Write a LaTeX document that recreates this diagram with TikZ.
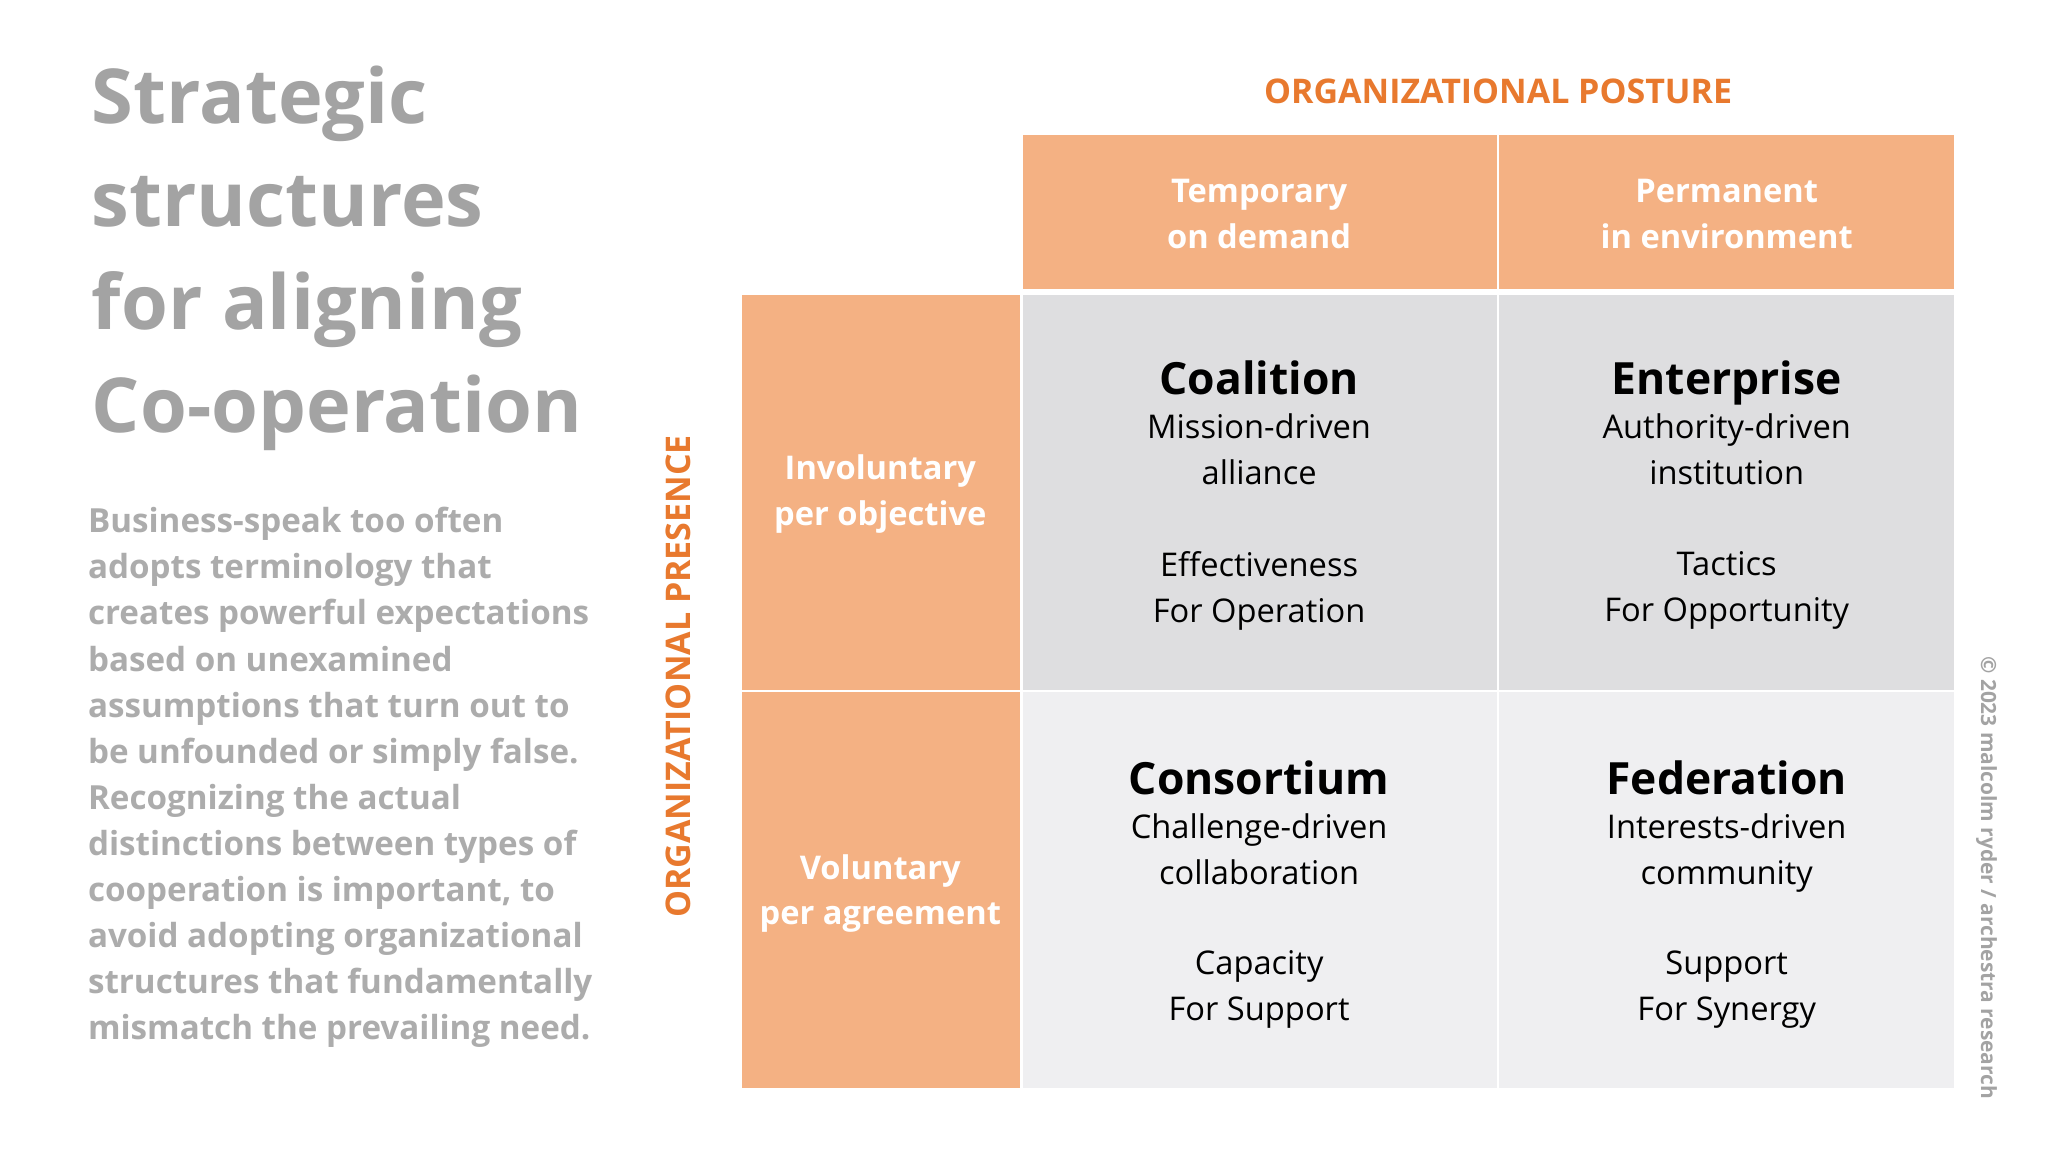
\documentclass[tikz,border=0pt]{standalone}
\usepackage{fontspec}
\setmainfont{Open Sans}
\definecolor{org}{HTML}{E8792E}
\definecolor{peach}{HTML}{F4B183}
\definecolor{cellA}{HTML}{DEDEE0}
\definecolor{cellB}{HTML}{EFEFF1}
\definecolor{txtgray}{HTML}{A3A3A3}
\begin{document}
\begin{tikzpicture}[x=0.5pt,y=-0.5pt,
  cell/.style={draw=white,line width=1pt},
  hdr/.style={text=white,font=\fontsize{12.5}{17.5}\selectfont\bfseries,align=center},
  ttl/.style={font=\fontsize{17}{20}\selectfont\bfseries,anchor=base},
  bod/.style={font=\fontsize{12.5}{17.6}\selectfont,align=center,anchor=north}]
\fill[white] (0,0) rectangle (1568,882);
\useasboundingbox (0,0) rectangle (1568,882);
% title
\node[anchor=north west,align=left,text=txtgray,font=\fontsize{29}{39.5}\selectfont\bfseries,inner sep=0] (title) at (70,50)
 {Strategic\\structures\\for aligning\\Co-operation};
\node[anchor=north west,align=left,text=txtgray!90,font=\fontsize{12.7}{17.65}\selectfont\bfseries,inner sep=0] (para) at (67,388)
 {Business-speak too often\\adopts terminology that\\creates powerful expectations\\based on unexamined\\assumptions that turn out to\\be unfounded or simply false.\\Recognizing the actual\\distinctions between types of\\cooperation is important, to\\avoid adopting organizational\\structures that fundamentally\\mismatch the prevailing need.};
% cells
\fill[peach] (783,103) rectangle (1146,221);
\fill[peach] (1148,103) rectangle (1496,221);
\fill[peach] (568,226) rectangle (781,528);
\fill[peach] (568,530) rectangle (781,833);
\fill[cellA] (783,226) rectangle (1146,528);
\fill[cellA] (1148,226) rectangle (1496,528);
\fill[cellB] (783,530) rectangle (1146,833);
\fill[cellB] (1148,530) rectangle (1496,833);
\node[text=org,font=\fontsize{13}{15}\selectfont\bfseries] (posture) at (1147,70) {ORGANIZATIONAL POSTURE};
\node[text=org,font=\fontsize{13}{15}\selectfont\bfseries,rotate=90] (presence) at (519,518) {ORGANIZATIONAL PRESENCE};
\node[hdr] (h1) at (964,164) {Temporary\\on demand};
\node[hdr] (h2) at (1322,164) {Permanent\\in environment};
\node[hdr] (r1) at (674,378) {Involuntary\\per objective};
\node[hdr] (r2) at (674,684) {Voluntary\\per agreement};
% cell texts
\foreach \x/\y/\t/\a/\b/\c/\d in {964/302/Coalition/Mission-driven/alliance/Effectiveness/For Operation,
 1322/302/Enterprise/Authority-driven/institution/Tactics/For Opportunity,
 964/608/Consortium/Challenge-driven/collaboration/Capacity/For Support,
 1322/608/Federation/Interests-driven/community/Support/For Synergy}{
 \node[ttl] at (\x,\y) {\t};
 \node[bod] at (\x,\y+8) {\a\\\b};
 \node[bod] at (\x,\y+113) {\c\\\d};
}
\node[rotate=-90,text=txtgray,font=\fontsize{8}{10}\selectfont\bfseries] (copy) at (1521,672) {© 2023 malcolm ryder / archestra research};
\end{tikzpicture}
\end{document}
